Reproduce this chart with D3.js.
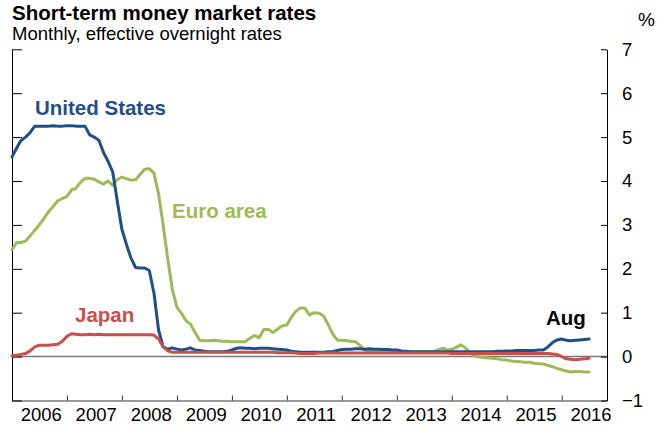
<!DOCTYPE html>
<html>
<head>
<meta charset="utf-8">
<script src="https://cdn.jsdelivr.net/npm/d3@7"></script>
<style>
  body { margin: 0; background: #fff; }
  svg { display: block; font-family: "Liberation Sans", Arial, sans-serif; }
</style>
</head>
<body>
<div id="chart"></div>
<script>
const width = 672;
const height = 430;

// Monthly effective overnight rates, Jan 2006 onwards
const usRates = [
  4.55, 4.75, 4.92, 5.0, 5.1, 5.25, 5.25, 5.25, 5.25, 5.26, 5.25, 5.25,
  5.26, 5.26, 5.25, 5.25, 5.25, 5.05, 5.0, 4.93, 4.65, 4.45, 4.21, 3.55,
  2.9, 2.55, 2.25, 2.03, 2.02, 2.02, 1.96, 1.45, 0.6, 0.22, 0.17, 0.2,
  0.17, 0.15, 0.17, 0.2, 0.15, 0.14, 0.12, 0.11, 0.11, 0.11, 0.11, 0.12,
  0.15, 0.19, 0.2, 0.19, 0.19, 0.18, 0.19, 0.19, 0.19, 0.18, 0.17, 0.16,
  0.15, 0.12, 0.11, 0.1, 0.1, 0.1, 0.1, 0.1, 0.1, 0.11, 0.11, 0.14,
  0.16, 0.17, 0.17, 0.18, 0.18, 0.17, 0.18, 0.17, 0.17, 0.16, 0.16, 0.15,
  0.15, 0.13, 0.12, 0.11, 0.11, 0.11, 0.11, 0.11, 0.11, 0.11, 0.11, 0.11,
  0.11, 0.11, 0.11, 0.11, 0.11, 0.11, 0.11, 0.11, 0.11, 0.11, 0.12, 0.12,
  0.13, 0.13, 0.14, 0.14, 0.14, 0.14, 0.14, 0.15, 0.15, 0.22, 0.32, 0.38,
  0.4, 0.37, 0.36, 0.37, 0.38, 0.39, 0.4
];
const euroRates = [
  2.44, 2.6, 2.6, 2.63, 2.75, 2.88, 3.0, 3.15, 3.3, 3.42, 3.55, 3.6,
  3.65, 3.8, 3.83, 3.97, 4.06, 4.06, 4.04, 3.98, 3.93, 4.0, 3.9, 4.03,
  4.09, 4.05, 4.02, 4.03, 4.15, 4.27, 4.28, 4.18, 3.7, 3.0, 2.22, 1.53,
  1.12, 0.98, 0.82, 0.74, 0.55, 0.37, 0.36, 0.36, 0.37, 0.36, 0.35, 0.35,
  0.34, 0.34, 0.34, 0.34, 0.42, 0.48, 0.43, 0.62, 0.62, 0.55, 0.63, 0.7,
  0.72, 0.9, 1.03, 1.11, 1.1, 0.95, 1.0, 0.99, 0.93, 0.74, 0.52, 0.38,
  0.37, 0.36, 0.35, 0.34, 0.25, 0.15, 0.12, 0.11, 0.11, 0.11, 0.11, 0.11,
  0.11, 0.11, 0.11, 0.11, 0.11, 0.11, 0.11, 0.11, 0.11, 0.15, 0.19, 0.15,
  0.17, 0.21, 0.27, 0.2, 0.08, 0.02, -0.01, -0.02, -0.03, -0.04, -0.05, -0.07,
  -0.08, -0.1, -0.11, -0.12, -0.13, -0.13, -0.15, -0.16, -0.17, -0.2, -0.23, -0.27,
  -0.3, -0.33, -0.35, -0.34, -0.34, -0.35, -0.35
];
const japanRates = [
  0.02, 0.03, 0.05, 0.07, 0.13, 0.22, 0.26, 0.26, 0.26, 0.27, 0.28, 0.35,
  0.46, 0.52, 0.51, 0.5, 0.5, 0.51, 0.5, 0.51, 0.5, 0.5, 0.5, 0.5,
  0.5, 0.5, 0.5, 0.5, 0.5, 0.5, 0.5, 0.49, 0.4, 0.22, 0.13, 0.1,
  0.1, 0.1, 0.1, 0.1, 0.1, 0.1, 0.1, 0.1, 0.1, 0.1, 0.1, 0.1,
  0.1, 0.1, 0.1, 0.1, 0.1, 0.1, 0.1, 0.1, 0.1, 0.1, 0.09, 0.09,
  0.09, 0.09, 0.08, 0.07, 0.07, 0.07, 0.07, 0.08, 0.08, 0.08, 0.08, 0.08,
  0.08, 0.08, 0.08, 0.08, 0.08, 0.08, 0.08, 0.08, 0.08, 0.08, 0.08, 0.08,
  0.08, 0.08, 0.08, 0.08, 0.08, 0.08, 0.08, 0.08, 0.08, 0.08, 0.08, 0.08,
  0.07, 0.07, 0.07, 0.07, 0.07, 0.07, 0.07, 0.07, 0.07, 0.07, 0.07, 0.07,
  0.07, 0.07, 0.07, 0.07, 0.07, 0.07, 0.07, 0.07, 0.07, 0.07, 0.06, 0.05,
  0.0, -0.05, -0.06, -0.07, -0.06, -0.05, -0.04
];

const yearLabels = ["2006", "2007", "2008", "2009", "2010", "2011", "2012", "2013", "2014", "2015", "2016"];
const yTicks = [-1, 0, 1, 2, 3, 4, 5, 6, 7];

const series = [
  { name: "Euro area", values: euroRates, color: "#9bbb59", label: [172, 218] },
  { name: "United States", values: usRates, color: "#1f4e89", label: [35, 115] },
  { name: "Japan", values: japanRates, color: "#c94f4b", label: [75, 322] }
];

const months = usRates.map((d, i) => d3.timeMonth.offset(new Date(2006, 0, 1), i));

let x = d3.scaleTime()
  .domain([new Date(2006, 0, 1), new Date(2016, 9, 28)])
  .range([12, 607]);
let y = d3.scaleLinear()
  .domain([-1, 7])
  .range([400.5, 49.3]);

let svg = d3.select("#chart").append("svg")
  .attr("width", width)
  .attr("height", height);

// Titles
svg.append("text")
  .attr("x", 12).attr("y", 20)
  .style("font-size", "20.5px").style("font-weight", "bold")
  .text("Short-term money market rates");
svg.append("text")
  .attr("x", 12).attr("y", 40)
  .style("font-size", "18.5px")
  .text("Monthly, effective overnight rates");
svg.append("text")
  .attr("x", 638).attr("y", 26)
  .style("font-size", "19px")
  .text("%");

// Zero line
svg.append("line")
  .attr("x1", 12).attr("x2", 607)
  .attr("y1", y(0)).attr("y2", y(0))
  .attr("stroke", "#7a7a7a").attr("stroke-width", 1.5);

// Bottom axis: grey baseline with small year ticks
let xAxis = svg.append("g")
  .attr("transform", "translate(0," + y(-1) + ")")
  .call(d3.axisBottom(x).ticks(d3.timeYear).tickSize(-5).tickSizeOuter(0).tickFormat(""));
xAxis.select(".domain").attr("stroke", "#7a7a7a").attr("stroke-width", 1.5);
xAxis.selectAll(".tick line").attr("stroke", "#333");

svg.append("g").selectAll("text")
  .data(yearLabels)
  .enter().append("text")
  .attr("x", d => x(new Date(+d, 6, 1)) + 2)
  .attr("y", 421)
  .attr("text-anchor", "middle")
  .style("font-size", "18.5px")
  .text(d => d);

// Left axis, ticks pointing inwards, no labels
svg.append("g")
  .attr("transform", "translate(12,0)")
  .call(d3.axisLeft(y).tickValues(yTicks).tickSize(-10).tickSizeOuter(0).tickFormat(""));

// Right axis with labels
let yAxis = svg.append("g")
  .attr("transform", "translate(607,0)")
  .call(d3.axisRight(y).tickValues(yTicks).tickSize(-6).tickSizeOuter(0).tickPadding(15));
yAxis.selectAll("text")
  .style("font-size", "18.5px")
  .style("font-family", "'Liberation Sans', Arial, sans-serif")
  .attr("fill", "#000");

let line = d3.line()
  .x((d, i) => x(months[i]))
  .y(d => y(d));

svg.append("g").selectAll("path")
  .data(series)
  .enter().append("path")
  .attr("d", d => line(d.values))
  .attr("fill", "none")
  .attr("stroke", d => d.color)
  .attr("stroke-width", 3)
  .attr("stroke-linejoin", "round")
  .attr("stroke-linecap", "round");

svg.append("g").selectAll("text")
  .data(series)
  .enter().append("text")
  .attr("x", d => d.label[0])
  .attr("y", d => d.label[1])
  .attr("fill", d => d.color)
  .style("font-size", "20.5px")
  .style("font-weight", "bold")
  .text(d => d.name);

svg.append("text")
  .attr("x", 546).attr("y", 325)
  .style("font-size", "20.5px")
  .style("font-weight", "bold")
  .text("Aug");
</script>
</body>
</html>
